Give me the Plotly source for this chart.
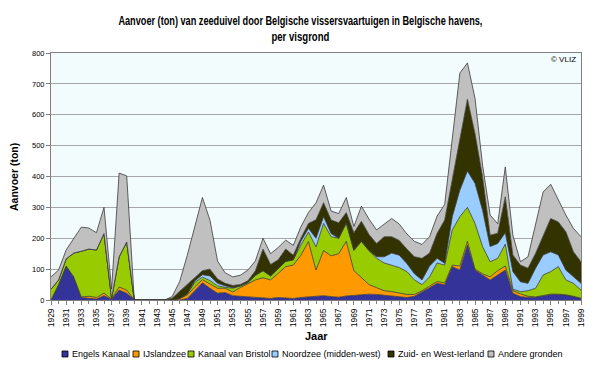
import plotly.graph_objects as go

years = list(range(1929, 2000))

engels_kanaal = [0, 50, 110, 75, 8, 5, 3, 14, 2, 32, 22, 0, 0, 0, 0, 0,
                 0, 0, 5, 30, 56, 38, 22, 24, 14, 12, 10, 8, 6, 5, 8, 6, 5, 8, 10, 11, 14,
                 11, 9, 13, 15, 18, 19, 18, 15, 12, 9, 8, 12, 25, 40, 54, 49, 108, 97, 178,
                 97, 81, 65, 81, 97, 22, 11, 8, 9, 13, 18, 18, 16, 11, 5]
ijslandzee = [0, 0, 0, 0, 2, 7, 5, 8, 1, 10, 10, 0, 0, 0, 0, 0,
              0, 5, 11, 13, 10, 14, 16, 14, 12, 28, 42, 57, 66, 60, 78, 102, 108, 137, 179, 86, 146,
              132, 141, 177, 80, 54, 31, 22, 15, 15, 13, 10, 6, 5, 5, 6, 6, 5, 13, 12,
              3, 4, 10, 14, 13, 8, 9, 4, 1, 1, 1, 1, 1, 1, 1]
kanaal_van_bristol = [35, 15, 23, 77, 148, 153, 154, 193, 2, 98, 156, 0, 0, 0, 0, 0,
                      0, 0, 4, 14, 8, 11, 8, 3, 12, 5, 4, 15, 23, 13, 14, 17, 17, 33, 31, 75, 88,
                      62, 50, 58, 65, 118, 110, 95, 90, 85, 83, 74, 47, 20, 30, 60, 58, 114, 160, 110,
                      148, 88, 49, 40, 71, 5, 7, 18, 28, 67, 73, 89, 48, 42, 26]
noordzee = [0, 0, 0, 0, 0, 0, 0, 0, 0, 0, 0, 0, 0, 0, 0, 0,
            0, 0, 0, 5, 8, 15, 8, 5, 2, 1, 1, 0, 0, 0, 0, 0, 0, 12, 12, 28, 22,
            10, 0, 2, 2, 0, 0, 5, 20, 40, 40, 26, 20, 15, 35, 15, 6, 43, 86, 118,
            130, 118, 49, 48, 37, 57, 32, 24, 65, 65, 64, 38, 32, 21, 22]
zuid_west_ierland = [0, 0, 0, 0, 0, 0, 0, 0, 0, 0, 0, 0, 0, 0, 0, 0,
                     6, 23, 30, 13, 13, 22, 14, 8, 7, 4, 5, 15, 70, 37, 30, 40, 15, 10, 16, 60, 45,
                     44, 50, 33, 56, 65, 52, 43, 65, 53, 48, 47, 55, 70, 42, 81, 140, 120, 169, 232,
                     161, 108, 37, 33, 116, 54, 54, 49, 48, 64, 108, 107, 124, 81, 70]
andere_gronden = [40, 32, 29, 48, 78, 68, 56, 85, 30, 271, 214, 0, 0, 0, 0, 0,
                  5, 32, 95, 165, 237, 158, 58, 34, 28, 30, 35, 32, 35, 35, 40, 29, 32, 37, 35, 55, 57,
                  29, 30, 49, 20, 49, 50, 44, 40, 59, 53, 49, 50, 45, 53, 56, 51, 133, 210, 118,
                  114, 38, 65, 31, 97, 64, 11, 37, 97, 140, 111, 71, 54, 76, 81]

series = [
    ("Engels Kanaal", engels_kanaal, "#333399"),
    ("IJslandzee", ijslandzee, "#FF9900"),
    ("Kanaal van Bristol", kanaal_van_bristol, "#99CC00"),
    ("Noordzee (midden-west)", noordzee, "#99CCFF"),
    ("Zuid- en West-Ierland", zuid_west_ierland, "#333300"),
    ("Andere gronden", andere_gronden, "#C0C0C0"),
]

tick_years = list(range(1929, 2000, 2))
tick_labels = [str(y) for y in tick_years]
y_ticks = list(range(0, 801, 100))

FONT = "Liberation Sans, Arial, sans-serif"

fig = go.Figure()
for name, vals, col in series:
    fig.add_trace(go.Scatter(
        x=years, y=vals, name=name, mode="lines", stackgroup="one",
        line=dict(color="#3a3a3a", width=0.8), fillcolor=col,
        showlegend=False, hoverinfo="x+y+name"))

W_PLOT = 530.0
H_PLOT = 247.0

def px_x(px):
    return (px - 51) / W_PLOT

def px_y(py):
    return (300 - py) / H_PLOT

shapes = []
annotations = []
legend_sq = [65, 136, 191, 275, 391, 491]
ly = 354
for (name, vals, col), sx in zip(series, legend_sq):
    shapes.append(dict(type="rect", xref="paper", yref="paper",
                       x0=px_x(sx - 3), x1=px_x(sx + 3),
                       y0=px_y(ly + 3), y1=px_y(ly - 3),
                       fillcolor=col, line=dict(color="#000000", width=0.8)))
    annotations.append(dict(xref="paper", yref="paper", x=px_x(sx + 5), y=px_y(ly),
                            text=name, showarrow=False, xanchor="left", yanchor="middle",
                            font=dict(family=FONT, size=9, color="#000000")))

annotations.append(dict(xref="paper", yref="paper", x=px_x(316), y=px_y(336), text="<b>Jaar</b>",
                        showarrow=False, xanchor="center", yanchor="middle",
                        font=dict(family=FONT, size=11, color="#000000")))
annotations.append(dict(xref="paper", yref="paper", x=px_x(14), y=px_y(177), text="<b>Aanvoer (ton)</b>",
                        textangle=-90, showarrow=False, xanchor="center", yanchor="middle",
                        font=dict(family=FONT, size=10.5, color="#000000")))
annotations.append(dict(xref="paper", yref="paper", x=px_x(578), y=px_y(59), text="© VLIZ",
                        showarrow=False, xanchor="right", yanchor="middle",
                        font=dict(family=FONT, size=8, color="#000000")))
annotations.append(dict(xref="paper", yref="paper", x=px_x(300), y=px_y(29),
                        text="<b>Aanvoer (ton) van zeeduivel door Belgische vissersvaartuigen in Belgische havens,<br>per visgrond</b>",
                        showarrow=False, xanchor="center", yanchor="middle",
                        font=dict(family=FONT, size=12, color="#000000")))

fig.update_layout(
    width=600, height=368,
    margin=dict(l=51, r=19, t=53, b=68, pad=0),
    paper_bgcolor="#FFFFFF",
    plot_bgcolor="#F2FCFC",
    font=dict(family=FONT, size=8, color="#000000"),
    shapes=shapes,
    annotations=annotations,
    hovermode=False,
    xaxis=dict(range=[1929, 1999], tickmode="array", tickvals=tick_years, ticktext=tick_labels,
               tickangle=-90, ticks="outside", ticklen=4, tickcolor="#808080",
               showgrid=False, zeroline=False, showline=True, linecolor="#808080", linewidth=1,
               mirror=True, tickfont=dict(family=FONT, size=8.5, color="#000000"),
               minor=dict(ticks="outside", ticklen=3, dtick=1, tickcolor="#808080")),
    yaxis=dict(range=[0, 800], tickmode="array", tickvals=y_ticks,
               ticks="outside", ticklen=4, tickcolor="#808080",
               showgrid=True, gridcolor="#A6A6A6", gridwidth=1, zeroline=False,
               showline=True, linecolor="#808080", linewidth=1, mirror=True,
               tickfont=dict(family=FONT, size=7.5, color="#000000")),
)

post = """
document.body.style.margin = '0px';
var gd = document.getElementById('{plot_id}');
var texts = gd.querySelectorAll('text.annotation-text');
texts.forEach(function(t) {
  var full = t.textContent || '';
  if (full.indexOf('zeeduivel') >= 0) {
    var lines = t.querySelectorAll('tspan.line');
    lines.forEach(function(ts) {
      var s = ts.textContent || '';
      var w = (s.indexOf('zeeduivel') >= 0) ? 364 : 58;
      ts.setAttribute('textLength', w);
      ts.setAttribute('lengthAdjust', 'spacingAndGlyphs');
    });
  }
});
"""

fig.write_html("out.html", post_script=post, config={"displayModeBar": False, "staticPlot": True})
